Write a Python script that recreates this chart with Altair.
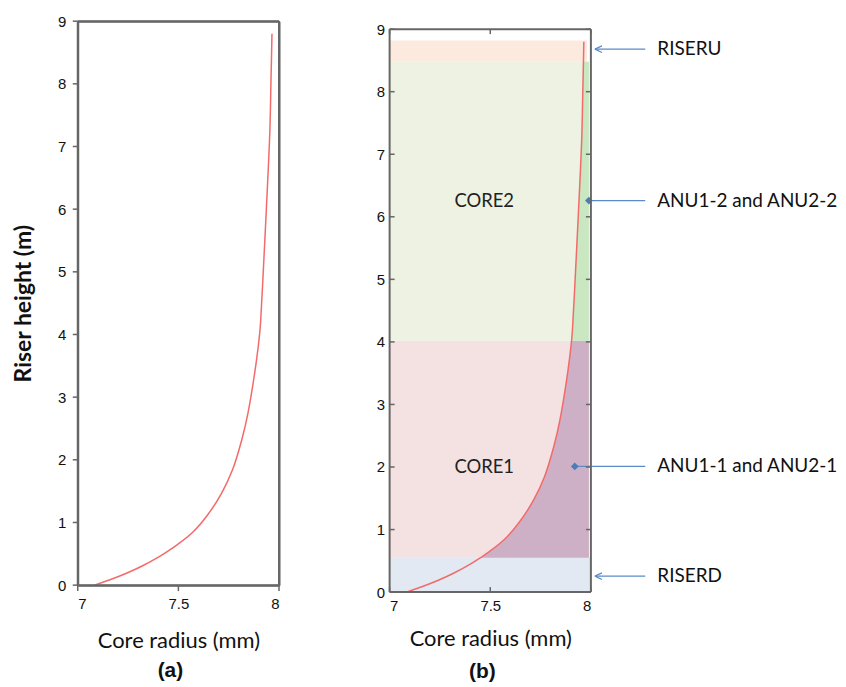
import altair as alt
import pandas as pd

# ---- data ----
curve_radius = [7.083, 7.16, 7.239, 7.32, 7.405, 7.452, 7.488, 7.570, 7.645, 7.715, 7.769,
                7.815, 7.846, 7.886, 7.904, 7.909, 7.922, 7.936, 7.947, 7.955, 7.960,
                7.963, 7.965]
curve_height = [0.0, 0.085, 0.185, 0.305, 0.455, 0.55, 0.63, 0.84, 1.12, 1.47, 1.84,
                2.32, 2.75, 3.54, 4.02, 4.23, 5.02, 5.93, 6.67, 7.30, 8.04,
                8.48, 8.80]

region_names = ["RISERD", "CORE1", "CORE2", "RISERU"]
region_left = [7.0, 7.0, 7.0, 7.0]
region_right = [8.0, 7.99, 7.99, 7.98]
region_bottom = [0.0, 0.55, 4.02, 8.48]
region_top = [0.55, 4.02, 8.48, 8.82]
region_colors = ["#E2E9F3", "#F4E1E2", "#EEF2E3", "#FDEADF"]

annulus_names = ["ANU1-1", "ANU1-2"]
annulus_bottom = [0.55, 4.02]
annulus_top = [4.02, 8.48]
annulus_outer = [7.99, 7.99]
annulus_colors = ["#CDAFC6", "#C9E7C1"]

core_labels = ["CORE1", "CORE2"]
core_label_x = [7.47, 7.47]
core_label_y = [2.0, 6.25]

ann_labels = ["RISERU", "ANU1-2 and ANU2-2", "ANU1-1 and ANU2-1", "RISERD"]
ann_y = [8.68, 6.26, 2.01, 0.255]
ann_start_x = [8.02, 7.99, 7.92, 8.02]
ann_end_x = [8.27, 8.27, 8.27, 8.27]
ann_text_x = [8.33, 8.33, 8.33, 8.33]
ann_kind = ["arrow", "diamond", "diamond", "arrow"]

x_ticks = [7, 7.5, 8]
y_ticks = list(range(10))
x_range = [7, 8]
y_range = [0, 9]

# ---- tables ----
curve_df = pd.DataFrame({"r": curve_radius, "h": curve_height})
region_df = pd.DataFrame({"name": region_names, "x0": region_left, "x1": region_right,
                          "y0": region_bottom, "y1": region_top, "fill": region_colors})
parts = []
for n, b, t, o, c in zip(annulus_names, annulus_bottom, annulus_top, annulus_outer, annulus_colors):
    sub = curve_df[(curve_df.h >= b) & (curve_df.h <= t)].copy()
    sub["name"] = n
    sub["outer"] = o
    sub["fill"] = c
    parts.append(sub)
annulus_df = pd.concat(parts, ignore_index=True)
core_df = pd.DataFrame({"label": core_labels, "x": core_label_x, "y": core_label_y})
ann_df = pd.DataFrame({"label": ann_labels, "y": ann_y, "x0": ann_start_x,
                       "x1": ann_end_x, "xt": ann_text_x, "kind": ann_kind})

# frame edges (plot box) built from the axis ranges
x_lo, x_hi = x_range
y_lo, y_hi = y_range
frame_df = pd.DataFrame({
    "x0": [x_lo, x_hi, x_lo, x_lo], "x1": [x_lo, x_hi, x_hi, x_hi],
    "y0": [y_lo, y_lo, y_lo, y_hi], "y1": [y_hi, y_hi, y_lo, y_hi]})
ytick_df = pd.DataFrame({"v": y_ticks})
xtick_df = pd.DataFrame({"v": x_ticks})

H = 573
xs = alt.Scale(domain=x_range, nice=False, zero=False)
ys_a = alt.Scale(domain=y_range, nice=False, zero=False, range=[566, 0])
ys_b = alt.Scale(domain=y_range, nice=False, zero=False, range=[573, 8])
FRAME = "#666666"
CURVE = "#F36A6A"
BLUE = "#5B8BC9"
INTERP = "catmull-rom"
noax = dict(axis=None)


def frame_layer(ys, with_axes=False):
    if with_axes:
        xa = alt.Axis(orient="top", domain=True, domainColor=FRAME, domainWidth=2,
                      ticks=False, labels=False, title=None)
        ya = alt.Axis(orient="right", domain=True, domainColor=FRAME, domainWidth=2,
                      ticks=False, labels=False, title=None)
    else:
        xa = None
        ya = None
    return alt.Chart(frame_df).mark_rule(color=FRAME, strokeWidth=2).encode(
        x=alt.X("x0:Q", scale=xs, axis=xa), x2="x1:Q",
        y=alt.Y("y0:Q", scale=ys, axis=ya), y2="y1:Q")


def ytick_layer(ys, at, shape, size):
    return alt.Chart(ytick_df).mark_point(
        shape=shape, filled=False, size=size, color=FRAME, strokeWidth=1.5, opacity=1
    ).encode(x=alt.X(datum=at, scale=xs, **noax), y=alt.Y("v:Q", scale=ys, **noax))


def xtick_layer(ys, at, shape, size):
    return alt.Chart(xtick_df).mark_point(
        shape=shape, filled=False, size=size, color=FRAME, strokeWidth=1.5, opacity=1
    ).encode(x=alt.X("v:Q", scale=xs, **noax), y=alt.Y(datum=at, scale=ys, **noax))


LEFT_OUT = "M-1,0L0,0"
RIGHT_IN = "M-1,0L0,0"
LEFT_IN = "M0,0L1,0"
DOWN = "M0,0L0,1"
UP = "M0,-1L0,0"

# ---- panel (a) ----
left_line = alt.Chart(curve_df).mark_line(color=CURVE, strokeWidth=1.5, interpolate=INTERP).encode(
    x=alt.X("r:Q", scale=xs, axis=alt.Axis(
        title="Core radius (mm)", values=x_ticks, format="~g", domain=True,
        domainColor=FRAME, domainWidth=2,
        orient="bottom", offset=-7, ticks=True, tickSize=6, tickOpacity=0,
        labelPadding=5, titlePadding=20)),
    y=alt.Y("h:Q", scale=ys_a, axis=alt.Axis(
        title="Riser height (m)", values=y_ticks, format="d", domain=True,
        domainColor=FRAME, domainWidth=2,
        orient="left", ticks=True, tickSize=5, tickOpacity=0, labelPadding=7,
        titlePadding=22, titleFontWeight="bold", titleFontSize=23)),
    order="h:Q",
)
left = alt.layer(
    left_line,
    ytick_layer(ys_a, x_lo, LEFT_OUT, 100),
    xtick_layer(ys_a, y_lo, DOWN, 144),
    frame_layer(ys_a, with_axes=True),
).resolve_axis(x="independent", y="independent").properties(
    width=202, height=H,
    title=alt.TitleParams("(a)", orient="bottom", font="Liberation Sans", fontSize=21,
                          fontWeight="bold", offset=8, dx=-8, color="#111"),
)

# ---- panel (b) ----
rects = alt.Chart(region_df).mark_rect().encode(
    x=alt.X("x0:Q", scale=xs, axis=alt.Axis(
        title="Core radius (mm)", values=x_ticks, format="~g", domain=False,
        offset=-5, ticks=True, tickSize=5, tickOpacity=0, labelPadding=6,
        titlePadding=16, orient="bottom")),
    x2="x1:Q",
    y=alt.Y("y0:Q", scale=ys_b, axis=alt.Axis(
        title=None, values=y_ticks, format="d", domain=False,
        offset=-5, ticks=True, tickSize=5, tickOpacity=0, labelPadding=5,
        orient="left")),
    y2="y1:Q",
    fill=alt.Fill("fill:N", scale=None),
)
areas = alt.Chart(annulus_df).mark_area(orient="horizontal", interpolate=INTERP).encode(
    y=alt.Y("h:Q", scale=ys_b, **noax),
    x=alt.X("r:Q", scale=xs, **noax),
    x2="outer:Q",
    fill=alt.Fill("fill:N", scale=None),
)
curve_b = alt.Chart(curve_df).mark_line(color=CURVE, strokeWidth=1.5, interpolate=INTERP).encode(
    x=alt.X("r:Q", scale=xs, **noax),
    y=alt.Y("h:Q", scale=ys_b, **noax),
    order="h:Q",
)
core_text = alt.Chart(core_df).mark_text(font="Lato", fontSize=18.5, color="#222").encode(
    x=alt.X("x:Q", scale=xs, **noax),
    y=alt.Y("y:Q", scale=ys_b, **noax),
    text="label:N",
)
ann_lines = alt.Chart(ann_df).mark_rule(color=BLUE, strokeWidth=1.2).encode(
    x=alt.X("x0:Q", scale=xs, **noax),
    x2="x1:Q",
    y=alt.Y("y:Q", scale=ys_b, **noax),
)
diamonds = alt.Chart(ann_df).transform_filter(alt.datum.kind == "diamond").mark_point(
    shape="diamond", filled=True, size=60, color="#4A7EBB", opacity=1).encode(
    x=alt.X("x0:Q", scale=xs, **noax),
    y=alt.Y("y:Q", scale=ys_b, **noax),
)
arrows = alt.Chart(ann_df).transform_filter(alt.datum.kind == "arrow").mark_point(
    shape="M0,0L1.6,-0.75M0,0L1.6,0.75", filled=False, size=78, color=BLUE,
    strokeWidth=1.2, opacity=1).encode(
    x=alt.X("x0:Q", scale=xs, **noax),
    y=alt.Y("y:Q", scale=ys_b, **noax),
)
ann_text = alt.Chart(ann_df).mark_text(font="Lato", fontSize=19, color="#111",
                                       align="left", baseline="middle").encode(
    x=alt.X("xt:Q", scale=xs, **noax),
    y=alt.Y("y:Q", scale=ys_b, **noax),
    text="label:N",
)

right = alt.layer(
    rects, areas, curve_b, core_text, ann_lines, diamonds, arrows, ann_text,
    ytick_layer(ys_b, x_lo, LEFT_IN, 100),
    ytick_layer(ys_b, x_hi, RIGHT_IN, 100),
    xtick_layer(ys_b, y_lo, UP, 100),
    xtick_layer(ys_b, y_hi, DOWN, 100),
    frame_layer(ys_b),
).resolve_axis(x="independent", y="independent").properties(
    width=202, height=H,
    title=alt.TitleParams("(b)", orient="bottom", font="Liberation Sans", fontSize=21,
                          fontWeight="bold", offset=11, dx=-8, color="#111"),
)

chart = alt.hconcat(left, right, spacing=94).properties(
    padding={"left": 4, "top": 5, "right": 0, "bottom": 0}
).configure_view(strokeWidth=0).configure_axis(
    grid=False, labelFont="Liberation Sans", labelFontSize=15, labelColor="#111",
    titleFont="Lato", titleFontSize=22, titleFontWeight="normal",
    titleColor="#111",
)

chart.save("out.html", embed_options={"renderer": "svg", "actions": False})
